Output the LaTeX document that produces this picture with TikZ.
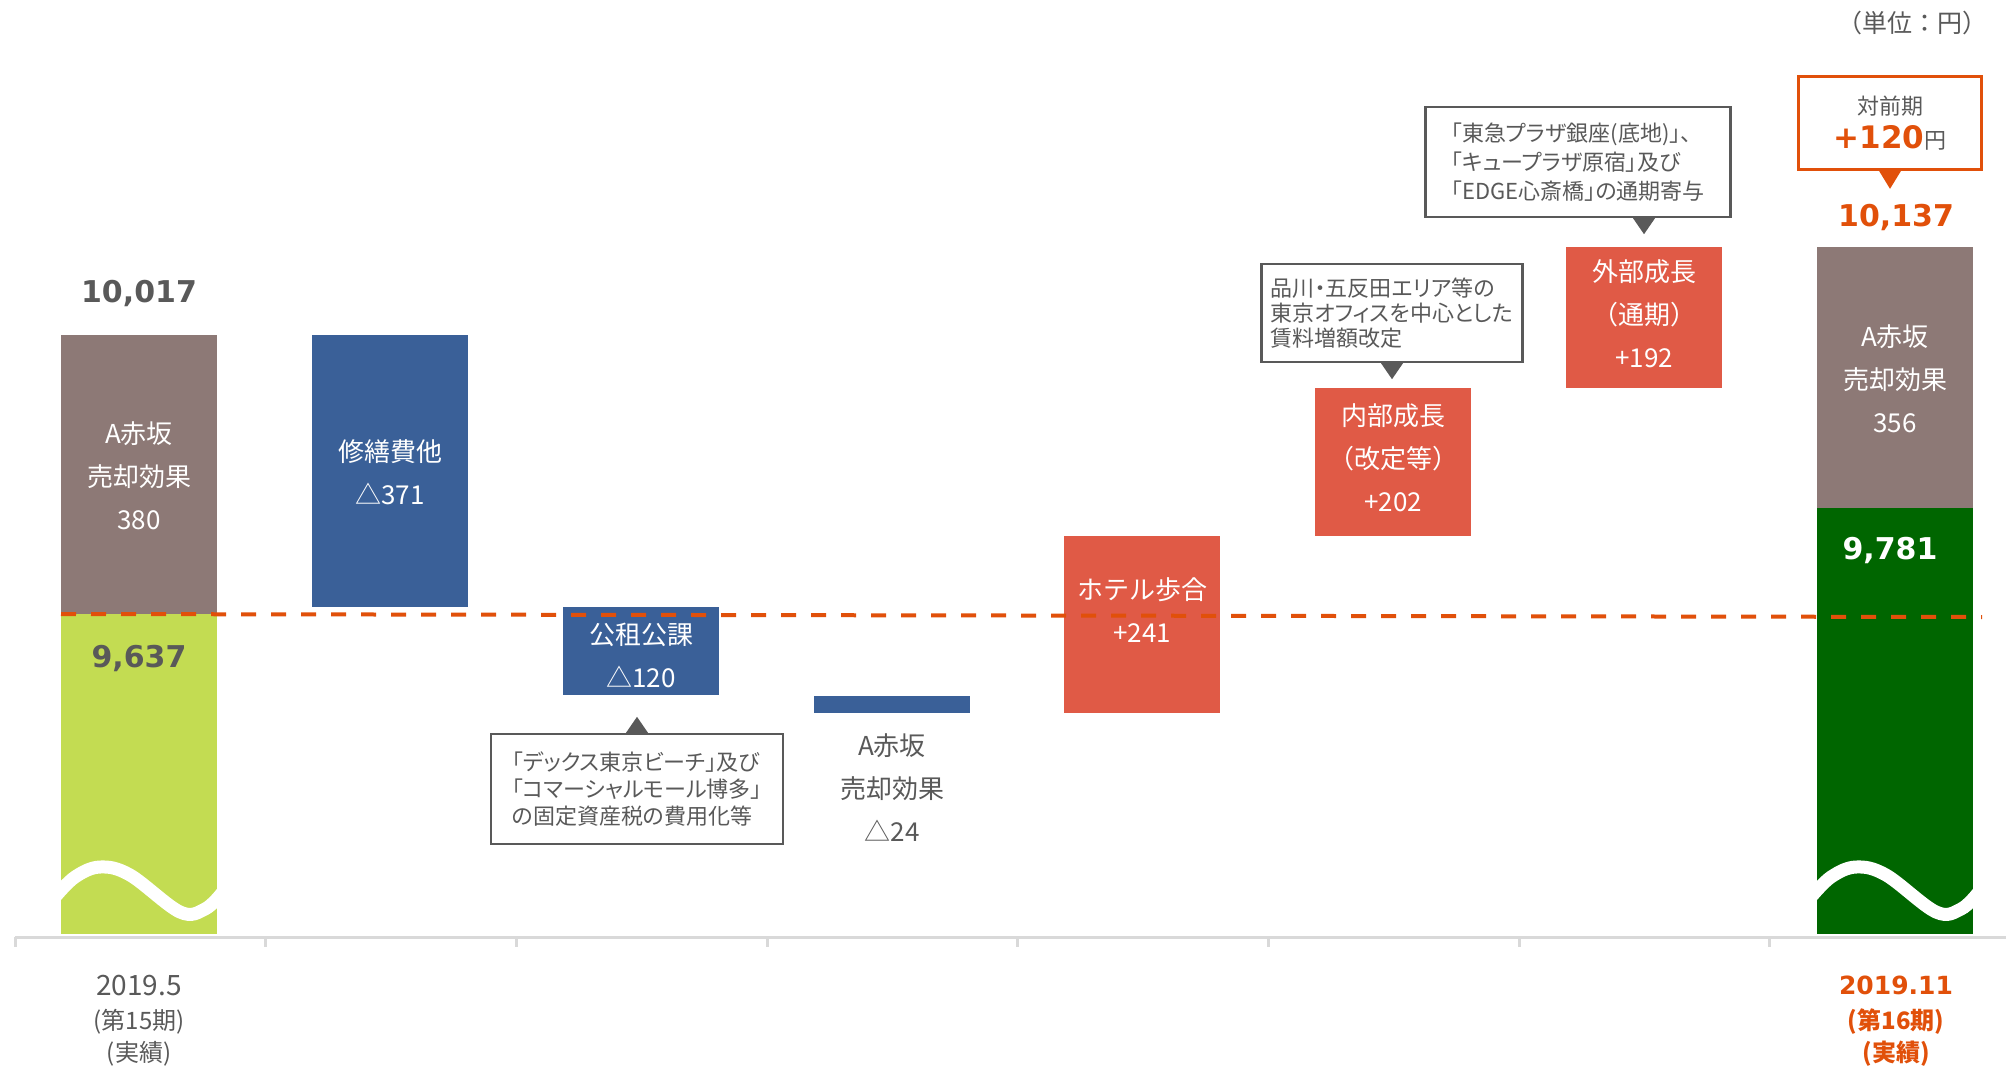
\documentclass[tikz,border=0pt]{standalone}
\usepackage{fontspec}
\setmainfont{Noto Sans CJK JP}
\newfontfamily\numfont{DejaVu Sans}
\newfontfamily\notefont[RawFeature=+palt]{Noto Sans CJK JP}
\definecolor{brownbar}{RGB}{141,121,118}
\definecolor{limebar}{RGB}{195,220,82}
\definecolor{greenbar}{RGB}{0,102,0}
\definecolor{bluebar}{RGB}{58,96,152}
\definecolor{redbar}{RGB}{224,90,70}
\definecolor{accent}{RGB}{225,80,10}
\definecolor{txtgray}{RGB}{89,89,89}
\definecolor{axisgray}{RGB}{217,217,217}

\begin{document}
\begin{tikzpicture}[x=0.5pt, y=-0.5pt,
    barlbl/.style={align=center, text=white, font=\fontsize{13}{21.5}\selectfont},
    bignum/.style={font=\numfont\bfseries\fontsize{15}{18}\selectfont},
    note/.style={draw=txtgray, line width=1.2pt, fill=white, text=txtgray, align=left, inner sep=0pt, font=\notefont\fontsize{11}{13.5}\selectfont},
    pointer/.style={fill=txtgray},
    period/.style={align=center, text=txtgray, font=\fontsize{12}{14}\selectfont}]
\useasboundingbox (0,0) rectangle (2006,1066);

\fill[brownbar] (61,335) rectangle (217,614);
\fill[limebar] (61,614) rectangle (217,934);
\fill[bluebar] (312,335) rectangle (468,607);
\fill[bluebar] (563,607) rectangle (719,695);
\fill[bluebar] (814,696) rectangle (970,713);
\fill[redbar] (1064,536) rectangle (1220,713);
\fill[redbar] (1315,388) rectangle (1471,536);
\fill[redbar] (1566,247) rectangle (1722,388);
\fill[brownbar] (1817,247) rectangle (1973,508);
\fill[greenbar] (1817,508) rectangle (1973,934);

\foreach \dx in {0,1756} {
    \begin{scope}
        \clip (61+\dx,820) rectangle (217+\dx,934);
        \draw[white, line width=6.5pt] plot[smooth, tension=0.6] coordinates {(55+\dx,897) (75+\dx,877) (100+\dx,867) (130+\dx,875) (180+\dx,912) (205+\dx,909) (222+\dx,893)};
    \end{scope}
}

\draw[axisgray, line width=1.5pt] (2006,937) -- (15,937);
\foreach \k in {0,...,7}
    \draw[axisgray, line width=1.5pt] (15+250.7*\k,937) -- ++(0,10);

\draw[accent, line width=2pt, dash pattern=on 7.5pt off 7.5pt] (61,614) -- (1982,617);

\node[barlbl] (akasaka1) at (139,476) {A赤坂\\売却効果\\380};
\node[barlbl] (repair) at (390,472) {修繕費他\\△371};
\node[barlbl] (tax) at (641,655) {公租公課\\△120};
\node[barlbl, text=txtgray] (akasaka2) at (892,788) {A赤坂\\売却効果\\△24};
\node[barlbl] (hotel) at (1142,610) {ホテル歩合\\+241};
\node[barlbl] (internal) at (1393,458) {内部成長\\（改定等）\\+202};
\node[barlbl] (external) at (1644,314) {外部成長\\（通期）\\+192};
\node[barlbl] (akasaka3) at (1895,379) {A赤坂\\売却効果\\356};

\node[bignum, text=txtgray] (total15) at (139,293) {10,017};
\node[bignum, text=txtgray] (base15) at (139,658) {9,637};
\node[bignum, text=accent] (total16) at (1896,217) {10,137};
\node[bignum, text=white] (base16) at (1890,550) {9,781};

\node[note, minimum width=146pt, minimum height=55pt] (noteA) at (637,789)
    {「デックス東京ビーチ」及び\\「コマーシャルモール博多」\\の固定資産税の費用化等};
\fill[pointer] ([xshift=-5.5pt]noteA.north) -- ([xshift=5.5pt]noteA.north) -- ([yshift=8pt]noteA.north) -- cycle;

\node[note, minimum width=130.5pt, minimum height=49pt, font=\notefont\fontsize{11}{12.5}\selectfont] (noteB) at (1392,313)
    {品川・五反田エリア等の\\東京オフィスを中心とした\\賃料増額改定};
\fill[pointer] ([xshift=-5.5pt]noteB.south) -- ([xshift=5.5pt]noteB.south) -- ([yshift=-8pt]noteB.south) -- cycle;

\node[note, minimum width=152.5pt, minimum height=55pt, font=\notefont\fontsize{11}{14.5}\selectfont] (noteC) at (1578,162)
    {「東急プラザ銀座(底地)」、\\「キュープラザ原宿」及び\\「EDGE心斎橋」の通期寄与};
\fill[pointer] ([xshift=27.5pt]noteC.south) -- ([xshift=38.5pt]noteC.south) -- ([xshift=33pt,yshift=-8pt]noteC.south) -- cycle;

\node[draw=accent, line width=1.35pt, minimum width=91.5pt, minimum height=46.5pt] (diff) at (1890,123) {};
\node[text=txtgray, font=\fontsize{11}{13}\selectfont] (diffhead) at (1890,106) {対前期};
\node[anchor=base, inner sep=0pt] (diffval) at (1890,148)
    {\textcolor{accent}{\numfont\bfseries\fontsize{15.5}{18}\selectfont +120}\textcolor{txtgray}{\fontsize{11}{13}\selectfont 円}};
\fill[accent] ([xshift=-5.5pt]diff.south) -- ([xshift=5.5pt]diff.south) -- ([yshift=-9pt]diff.south) -- cycle;

\node[text=txtgray, font=\fontsize{12.5}{14}\selectfont] (unit) at (1912,23) {（単位：円）};

\node[period, font=\fontsize{14}{16}\selectfont] (date15) at (139,985) {2019.5};
\node[period] (term15) at (139,1022) {(第15期)};
\node[period] (actual15) at (139,1054) {(実績)};
\node[period, text=accent, font=\numfont\bfseries\fontsize{12.5}{15}\selectfont] (date16) at (1896,985) {2019.11};
\node[period, text=accent, font=\bfseries\fontsize{12}{14}\selectfont] (term16) at (1896,1022) {(第16期)};
\node[period, text=accent, font=\bfseries\fontsize{12}{14}\selectfont] (actual16) at (1896,1054) {(実績)};
\end{tikzpicture}
\end{document}
